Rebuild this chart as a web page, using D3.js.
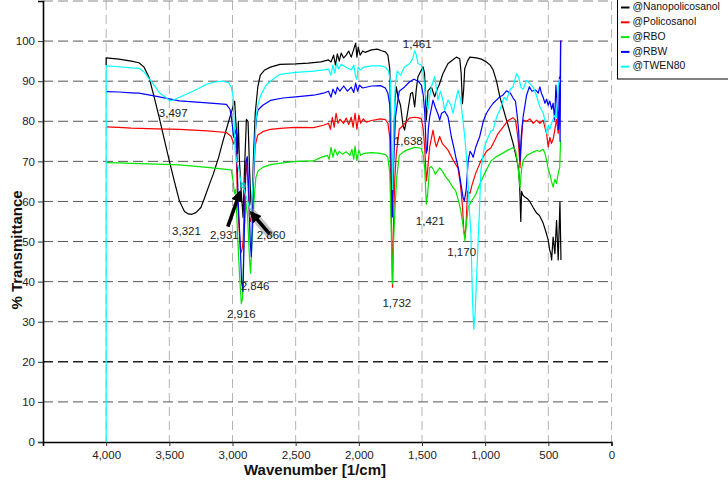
<!DOCTYPE html>
<html>
<head>
<meta charset="utf-8">
<script src="https://cdn.jsdelivr.net/npm/d3@7"></script>
<style>
  html, body { margin: 0; padding: 0; background: #fff; }
  svg { display: block; }
  text { font-family: "Liberation Sans", Arial, sans-serif; }
</style>
</head>
<body>
<svg id="chart" width="728" height="487"></svg>
<script>
// ---------- DATA ----------
const seriesNames = ["@Nanopolicosanol", "@Policosanol", "@RBO", "@RBW", "@TWEN80"];
const seriesColors = ["#000000", "#ff0000", "#00e600", "#0000ff", "#00ffff"];

const xTicks = [4000, 3500, 3000, 2500, 2000, 1500, 1000, 500, 0];
const yTicks = [0, 10, 20, 30, 40, 50, 60, 70, 80, 90, 100];

// Nanopolicosanol (black)
const nanoWn = [4000,4000,3900,3800,3740,3700,3660,3620,3580,3540,3500,3460,3420,3380,3350,3321,3290,3250,3220,3180,3150,3110,3075,3030,2983,2970,2960,2954,2945,2930,2916,2905,2890,2877,2865,2855,2846,2835,2820,2800,2780,2745,2700,2624,2500,2400,2300,2240,2220,2200,2185,2170,2155,2140,2120,2100,2080,2060,2040,2025,2015,2005,1990,1970,1950,1900,1855,1820,1790,1770,1755,1745,1735,1725,1715,1703,1690,1670,1650,1638,1625,1605,1590,1575,1558,1545,1532,1510,1492,1480,1472,1466,1458,1453,1426,1400,1380,1365,1334,1294,1260,1228,1201,1190,1180,1170,1162,1140,1122,1069,1030,990,960,937,910,884,860,831,805,779,750,735,726,718,712,700,680,663,647,620,593,570,541,520,501,490,480,474,462,448,435,422,408,400];
const nanoT  = [94,95.8,95.5,95.0,94.6,93.5,90.9,86,80.9,75.5,70.1,65,60.1,57.5,56.9,56.8,57.2,58.5,61,64.5,67,71,75.1,80,85,78,72,80,70,62,56,68,80.5,80,68,60,58,70,82,88.5,91.5,92.8,93.5,94.2,94.3,94.5,94.8,95.3,94.8,96.5,94,96.8,95,97,95.8,96.5,97.5,96,98,99.5,96,98.5,96.5,97.5,97.2,97.8,98,97.6,97.3,96.5,93,75,58.5,72,85,88.6,86,84,79,77.8,80,84,86.9,87.2,83.6,88,91.1,92.5,93.6,92,86,80.3,84,87.6,88.6,86.1,88,89,91.9,94.4,95.2,96.0,95.6,92,84.4,88,93.1,95,96.0,95.8,95.5,94.8,94,92.8,90,86.1,83.5,80.3,77.5,74.5,70.5,68,63,55,62.5,61.5,61,60.6,60,58.5,57.1,56.5,54.6,52.5,50.4,48,47,45.4,51.1,47,55.3,45.4,59.9,45.4];

// Policosanol (red)
const poliWn = [4000,3900,3800,3600,3420,3200,3048,3010,2990,2975,2960,2945,2935,2925,2916,2905,2893,2880,2865,2855,2846,2835,2820,2800,2760,2700,2600,2500,2359,2280,2240,2225,2210,2195,2180,2165,2150,2120,2100,2080,2060,2045,2030,2015,2000,1985,1965,1940,1900,1829,1790,1770,1755,1745,1733,1725,1715,1703,1680,1643,1600,1560,1530,1505,1490,1478,1465,1455,1439,1413,1398,1386,1360,1340,1294,1255,1215,1195,1179,1170,1160,1150,1140,1120,1105,1075,1034,990,954,920,901,860,822,780,760,745,735,724,715,705,699,672,646,620,593,567,541,527,514,501,488,475,462,448,435,422,410,403,396];
const poliT  = [78.6,78.5,78.3,78.1,78.0,77.6,77.2,76.2,74.3,76,60,52,47,48,50,60,70,66,56,55,58,65,74,76.6,77.4,78,78.3,78.5,78.4,79,79.5,78,81,78.5,82,79.5,80.5,79.5,80.8,79.2,81,78.5,82,78,81.5,79.5,80.6,79.8,80.2,80.6,80.4,79.5,76,60,38.6,55,66,72,78,79.2,80.8,81,80.9,80.6,78,73,65.1,68,73.6,77.8,75,73.6,76.2,74.5,72.8,70.4,68.3,64,58.5,53,51,55,62.6,62,64,67,70.1,72.5,73.4,75.5,76.8,78.5,80.1,80.9,80.3,77,74,68.4,74,79,80.3,80,80.6,79.5,80.3,79.5,80.3,78.5,77,73.6,76,74.5,75.5,78,80.5,77,82,100,100];

// RBO (green)
const rboWn = [4000,3900,3800,3600,3420,3200,3048,3010,2995,2985,2975,2960,2945,2930,2920,2910,2895,2880,2866,2857,2845,2830,2815,2798,2760,2700,2600,2500,2359,2300,2250,2235,2220,2205,2190,2170,2155,2130,2100,2070,2055,2040,2030,2015,2000,1985,1960,1900,1829,1790,1770,1755,1745,1734,1725,1712,1700,1680,1640,1604,1560,1530,1505,1490,1478,1466,1455,1440,1426,1410,1395,1380,1360,1338,1310,1286,1255,1233,1210,1193,1175,1160,1150,1135,1110,1074,1040,1007,980,954,920,875,820,780,760,745,735,724,712,699,670,646,620,593,567,541,527,514,500,488,475,462,448,435,422,410,403];
const rboT  = [69.7,69.6,69.5,69.3,69.1,68.5,68.0,67.9,65,62,63,52,42,34.5,36,50,60,56,46,42.1,50,60,66,67.6,68.5,69.2,69.6,70,70.1,71,71.5,70.5,73.5,71,73,71.5,72.5,71.8,72.4,71.5,73,70.5,73.8,70.2,72.8,71.5,72,72.2,72.0,71.7,71,67,55,39.5,50,59.3,66,71.5,72.5,73.0,73.5,73.4,73.2,71.5,68,59.3,62,68.4,68.7,68,66.8,67.5,68.4,67.5,66,65.1,63.5,62.6,60,57.7,54,50.2,54,58.5,60,61.8,64.5,66.8,68.5,70.1,71,71.8,72.8,73.4,72.8,70,67,63.5,68,70.3,71.5,71.9,72.3,72.7,72.5,73.0,72,70.3,68,66.9,65,63.6,65.5,64.5,67,68.5,75.2];

// RBW (blue)
const rbwWn = [4000,3900,3800,3740,3600,3420,3200,3048,3020,3009,2990,2970,2955,2940,2928,2917,2905,2893,2883,2870,2860,2851,2840,2825,2810,2798,2760,2700,2600,2500,2359,2280,2240,2220,2205,2185,2170,2150,2120,2090,2060,2040,2025,2010,1995,1970,1900,1829,1790,1770,1755,1745,1735,1722,1710,1696,1680,1643,1600,1564,1530,1505,1490,1478,1466,1458,1450,1439,1413,1395,1370,1360,1345,1320,1294,1268,1245,1228,1210,1190,1175,1165,1150,1135,1120,1109,1095,1075,1043,1015,990,960,937,884,860,831,800,779,760,745,735,724,715,700,672,650,630,600,580,567,555,541,527,514,501,488,474,462,450,440,430,420,412,407,402,398];
const rbwT  = [87.4,87.3,87.1,87.0,86.2,85.1,84.6,84.2,83,81,76,78,60,50,40,37.5,55,70,71.2,62,50,46.2,58,75,81,82.8,84,85.2,85.8,86.1,86.5,87,87.5,86,88,86.8,88.5,87.5,88.8,87.5,88.5,87.2,89.5,87.5,89,88.3,88.8,88.9,88.3,87,84,70,56.1,72,81,84.2,87.5,88.4,89.8,90.5,90,89.0,86.5,82,72,73,78,81.1,85.3,83.5,81.5,80.3,82,82.5,81.1,76.2,73,70.4,68,64,61,60.1,63,70,72.5,72.0,71,73.5,76.2,80,82.0,83.5,84.5,86.1,86.5,87.6,87,85.8,85,81,77.6,70.1,76,81,86.5,88.6,87.5,87.8,87,88.6,87,86,84.5,85.5,84,85,83,84.5,80.3,89,84,78,91,75,100,100];

// TWEN80 (cyan)
const twenWn = [4000,4000,3900,3800,3740,3700,3658,3620,3579,3530,3497,3470,3420,3340,3280,3207,3140,3075,3030,3010,2995,2978,2965,2950,2931,2917,2900,2880,2860,2851,2835,2815,2800,2772,2730,2680,2624,2500,2359,2280,2240,2220,2205,2190,2175,2160,2140,2100,2060,2040,2025,2015,2005,1990,1960,1900,1829,1790,1765,1750,1740,1733,1725,1712,1696,1670,1640,1598,1575,1558,1545,1532,1505,1490,1479,1465,1453,1440,1426,1400,1385,1373,1355,1340,1320,1294,1270,1255,1235,1215,1195,1175,1162,1145,1125,1113,1100,1090,1080,1060,1045,1034,1020,1007,990,954,937,910,884,850,831,800,779,752,735,716,700,672,650,620,595,567,540,527,514,500,488,475,462,448,435,422,410];
const twenT  = [0,93.8,93.6,93.3,93.2,92.3,90.5,89,87.1,86,85.1,85.3,86,87.1,88,89.2,89.8,90.0,89.6,88.5,86,72,70,68,64.5,64,62,60,58,57.9,66,80,84,86.9,89.1,90.5,91.7,92.2,92.5,92.8,93,91.5,94,92,94.5,93,94.2,93.5,92.8,94,91,90.5,93.5,92.8,93.5,93.8,93.8,93.5,92.5,90,75,63,75,89,92.5,91.5,93.5,94.4,95.5,97.6,96.5,94.4,94,92,88.6,85,82.8,86,88.6,91.1,88,85.3,87.5,86,82.8,85.3,84,82.0,85,87.8,85.5,80,76.2,70,58,51.9,35,28.2,32,46.9,58,67.6,71,73.4,75,77.6,77.8,81,82.8,86,85.3,88,88.6,91.9,91,88.4,88,90.2,89.5,88.5,86.5,83.6,82,80.3,77,79,78,79.5,80.5,81.5,81,88.6,90.5];

// Peak annotations: text centre in data coordinates
const peakLabels = ["3,497","3,321","2,931","2,860","2,846","2,916","1,732","1,421","1,170","1,638","1,461"];
const peakLabelWn = [3469,3364,3065,2695,2821,2930,1699,1435,1186,1608,1538];
const peakLabelT  = [81.8,52.4,51.4,51.4,38.7,31.7,34.4,55.0,47.1,74.9,99.0];

// Arrows: tail -> tip, in data coordinates
const arrowTailWn = [3037, 2707];
const arrowTailT  = [53.7, 51.9];
const arrowTipWn  = [2942, 2851];
const arrowTipT   = [62.3, 57.2];

// ---------- CHART ----------
const svg = d3.select("#chart");
const x = d3.scaleLinear().domain([4500, 0]).range([43, 611.5]);
const y = d3.scaleLinear().domain([0, 110]).range([442, 1]);

// grid: vertical
svg.append("g").selectAll("line").data(xTicks).join("line")
  .attr("x1", d => x(d)).attr("x2", d => x(d))
  .attr("y1", y(110)).attr("y2", y(0))
  .attr("stroke", "#b4b4b4").attr("stroke-width", 1)
  .attr("stroke-dasharray", "9,5");

// grid: horizontal
const hGrid = yTicks.filter(d => d > 0).concat([110]);
svg.append("g").selectAll("line").data(hGrid).join("line")
  .attr("x1", x(4500)).attr("x2", x(0))
  .attr("y1", d => y(d)).attr("y2", d => y(d))
  .attr("stroke", d => d === 20 ? "#222" : (d === 110 ? "#888" : "#555"))
  .attr("stroke-width", d => d === 20 ? 1.6 : 1)
  .attr("stroke-dasharray", "10,5");

// axes
const fmt = d3.format(",");
const xAxis = svg.append("g").attr("transform", `translate(0,${y(0)})`)
  .call(d3.axisBottom(x).tickValues(xTicks).tickFormat(fmt).tickSize(4).tickPadding(5));
const yAxis = svg.append("g").attr("transform", `translate(${x(4500)},0)`)
  .call(d3.axisLeft(y).tickValues(yTicks).tickSize(5).tickPadding(3));
[xAxis, yAxis].forEach(a => {
  a.select(".domain").attr("stroke", "#000").attr("stroke-width", 1.6);
  a.selectAll(".tick line").attr("stroke", "#333");
  a.selectAll(".tick text").attr("fill", "#222").style("font-size", "11.5px")
    .style("font-family", '"Liberation Sans", Arial, sans-serif');
});

// series lines
const line = d3.line().x(d => x(d[0])).y(d => y(d[1]));
const allWn = [nanoWn, poliWn, rboWn, rbwWn, twenWn];
const allT  = [nanoT, poliT, rboT, rbwT, twenT];
[0, 1, 2, 3, 4].forEach(i => {
  const pts = allWn[i].map((w, k) => [w, allT[i][k]]);
  svg.append("path").datum(pts)
    .attr("d", line)
    .attr("fill", "none")
    .attr("stroke", seriesColors[i])
    .attr("stroke-width", 1.2)
    .attr("stroke-linejoin", "round");
});

// small cyan marker
svg.append("circle").attr("cx", x(2917)).attr("cy", y(64)).attr("r", 2.2)
  .attr("fill", "none").attr("stroke", "#00cccc").attr("stroke-width", 1.2);

// arrows
const defs = svg.append("defs");
defs.append("marker").attr("id", "ah").attr("viewBox", "0 0 10 10")
  .attr("refX", 8).attr("refY", 5).attr("markerWidth", 3.2).attr("markerHeight", 3.2)
  .attr("orient", "auto")
  .append("path").attr("d", "M0,0 L10,5 L0,10 Z").attr("fill", "#000");
arrowTailWn.forEach((w, i) => {
  if (i === 1) {
    svg.append("line")
      .attr("x1", x(w)).attr("y1", y(arrowTailT[i]))
      .attr("x2", x(arrowTipWn[i])).attr("y2", y(arrowTipT[i]))
      .attr("stroke", "#999").attr("stroke-opacity", 0.55).attr("stroke-width", 9)
      .attr("stroke-linecap", "round");
  }
  svg.append("line")
    .attr("x1", x(w)).attr("y1", y(arrowTailT[i]))
    .attr("x2", x(arrowTipWn[i])).attr("y2", y(arrowTipT[i]))
    .attr("stroke", "#000").attr("stroke-width", 3.6)
    .attr("marker-end", "url(#ah)");
});

// peak labels
svg.append("g").selectAll("text").data(peakLabels).join("text")
  .attr("x", (d, i) => x(peakLabelWn[i]))
  .attr("y", (d, i) => y(peakLabelT[i]))
  .attr("text-anchor", "middle").attr("dominant-baseline", "middle")
  .attr("fill", "#222").style("font-size", "11.5px")
  .text(d => d);

// axis titles
svg.append("text").attr("x", 315).attr("y", 475)
  .attr("text-anchor", "middle").style("font-size", "15px").style("font-weight", "bold")
  .attr("fill", "#111").text("Wavenumber [1/cm]");
svg.append("text").attr("transform", "translate(18,250) rotate(-90)")
  .attr("text-anchor", "middle").attr("dominant-baseline", "middle")
  .style("font-size", "15px").style("font-weight", "bold")
  .attr("fill", "#111").text("% Transmittance");

// legend
const lg = svg.append("g");
lg.append("rect").attr("x", 617.5).attr("y", -0.5).attr("width", 115).attr("height", 79.5)
  .attr("fill", "#fff").attr("stroke", "#000").attr("stroke-width", 1);
seriesNames.forEach((n, i) => {
  const yy = 7.5 + i * 14.8;
  lg.append("line").attr("x1", 621).attr("x2", 629.5).attr("y1", yy).attr("y2", yy)
    .attr("stroke", seriesColors[i]).attr("stroke-width", 2);
  lg.append("text").attr("x", 632.5).attr("y", yy).attr("dominant-baseline", "middle")
    .style("font-size", "10.4px").attr("fill", "#111").text(n);
});
</script>
</body>
</html>
